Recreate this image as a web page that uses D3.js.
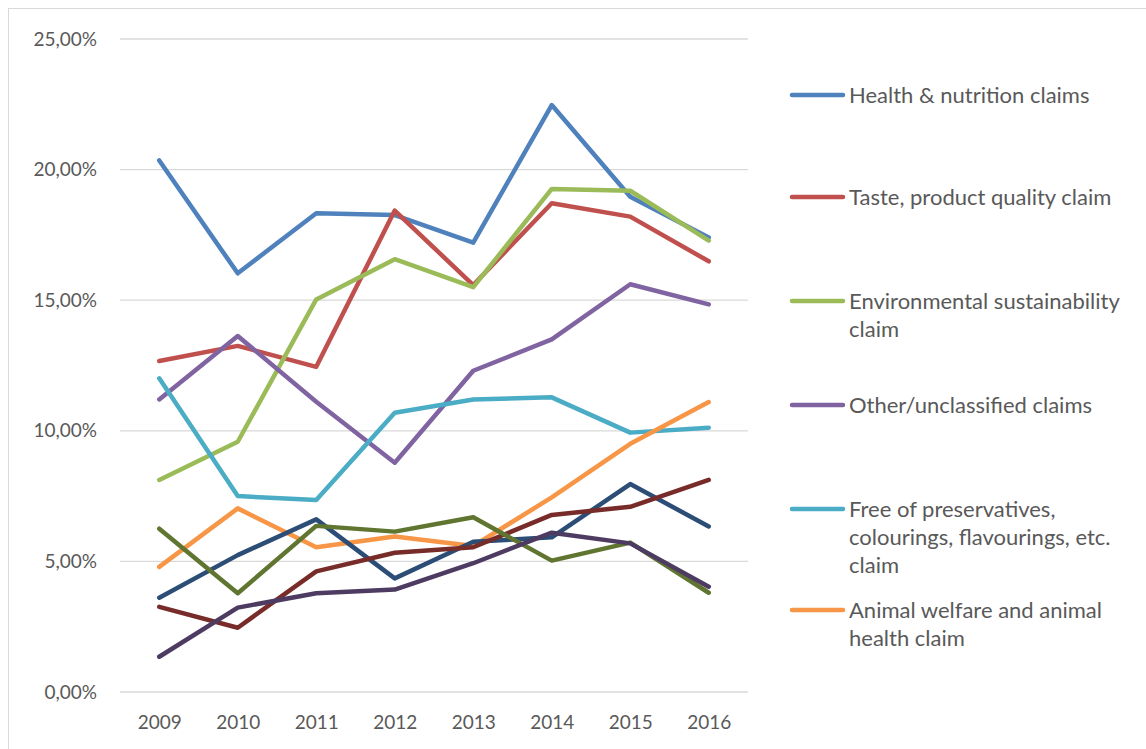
<!DOCTYPE html>
<html>
<head>
  <meta charset="utf-8">
  <title>Claims 2009-2016</title>
  <script src="https://d3js.org/d3.v7.min.js"></script>
  <style>
    body { margin: 0; background: #fff; }
    text { font-family: Lato, "Open Sans", sans-serif; fill: #595959; }
  </style>
</head>
<body>
  <div id="chart"></div>

  <script>
    // anni sull'asse x
    var years = ["2009", "2010", "2011", "2012", "2013", "2014", "2015", "2016"];

    // nomi delle serie (solo le prime 6 compaiono in legenda)
    var seriesNames = [
      "Health & nutrition claims",
      "Taste, product quality claim",
      "Environmental sustainability claim",
      "Other/unclassified claims",
      "Free of preservatives, colourings, flavourings, etc. claim",
      "Animal welfare and animal health claim",
      "Series 7", "Series 8", "Series 9", "Series 10"
    ];

    // valori (quote)
    var health      = [0.2035, 0.1603, 0.1833, 0.1826, 0.1720, 0.2247, 0.1896, 0.1740];
    var taste       = [0.1267, 0.1325, 0.1245, 0.1843, 0.1558, 0.1871, 0.1820, 0.1649];
    var environment = [0.0812, 0.0958, 0.1503, 0.1657, 0.1550, 0.1926, 0.1919, 0.1728];
    var other       = [0.1120, 0.1363, 0.1111, 0.0878, 0.1230, 0.1350, 0.1561, 0.1484];
    var freeOf      = [0.1201, 0.0750, 0.0735, 0.1069, 0.1120, 0.1128, 0.0993, 0.1012];
    var animal      = [0.0479, 0.0703, 0.0554, 0.0595, 0.0559, 0.0745, 0.0950, 0.1110];
    var series7     = [0.0361, 0.0524, 0.0661, 0.0435, 0.0575, 0.0592, 0.0796, 0.0634];
    var series8     = [0.0326, 0.0246, 0.0462, 0.0533, 0.0554, 0.0678, 0.0709, 0.0812];
    var series9     = [0.0625, 0.0378, 0.0636, 0.0614, 0.0669, 0.0503, 0.0572, 0.0380];
    var series10    = [0.0135, 0.0323, 0.0378, 0.0392, 0.0493, 0.0610, 0.0569, 0.0403];

    var allValues = [health, taste, environment, other, freeOf, animal, series7, series8, series9, series10];
    var colors = ["#4F81BD", "#C0504D", "#9BBB59", "#8064A2", "#4BACC6", "#F79646",
                  "#2C4D75", "#772C2A", "#5F7530", "#4D3B62"];

    // righe di testo della legenda
    var legendLines = [
      ["Health & nutrition claims"],
      ["Taste, product quality claim"],
      ["Environmental sustainability", "claim"],
      ["Other/unclassified claims"],
      ["Free of preservatives,", "colourings, flavourings, etc.", "claim"],
      ["Animal welfare and animal", "health claim"]
    ];
    var yTicks = [0, 0.05, 0.10, 0.15, 0.20, 0.25];

    var W = 1146, H = 749;
    var svg = d3.select("#chart").append("svg")
                .attr("width", W).attr("height", H);

    // cornice del grafico
    svg.append("rect")
       .attr("x", 8.5).attr("y", 8.5)
       .attr("width", W + 20).attr("height", H + 20)
       .attr("fill", "none").attr("stroke", "#D9D9D9");

    var xScale = d3.scalePoint().domain(years).range([120, 748]).padding(0.5);
    var yScale = d3.scaleLinear().domain([0, 0.25]).range([692, 39]);

    var locale = d3.formatLocale({ decimal: ",", thousands: ".", grouping: [3], currency: ["", "€"] });
    var fmt = locale.format(".2%");

    // griglia
    svg.append("g")
       .selectAll("line")
       .data(yTicks)
       .enter().append("line")
       .attr("x1", 120).attr("x2", 748)
       .attr("y1", d => yScale(d)).attr("y2", d => yScale(d))
       .attr("stroke", "#D9D9D9").attr("stroke-width", 1.3);

    // asse y
    var yAxis = svg.append("g")
       .attr("transform", "translate(97,0)")
       .call(d3.axisLeft(yScale).tickValues(yTicks).tickFormat(fmt).tickSize(0).tickPadding(0));
    yAxis.select(".domain").remove();
    yAxis.selectAll("text").attr("font-size", 19).style("font-family", "Lato, sans-serif").attr("fill", "#595959");

    // asse x
    var xAxis = svg.append("g")
       .attr("transform", "translate(0,715)")
       .call(d3.axisBottom(xScale).tickSize(0).tickPadding(0));
    xAxis.select(".domain").remove();
    xAxis.selectAll("text").attr("font-size", 19).style("font-family", "Lato, sans-serif").attr("fill", "#595959");

    // linee
    var line = d3.line()
                 .x((d, i) => xScale(years[i]))
                 .y(d => yScale(d));

    svg.append("g")
       .selectAll("path")
       .data(allValues)
       .enter().append("path")
       .attr("d", d => line(d))
       .attr("fill", "none")
       .attr("stroke", (d, i) => colors[i])
       .attr("stroke-width", 4.5)
       .attr("stroke-linejoin", "round")
       .attr("stroke-linecap", "round");

    // legenda
    var legendY = [95, 197, 301, 405, 509, 610];
    var legend = svg.append("g")
       .selectAll("g")
       .data(legendLines)
       .enter().append("g")
       .attr("transform", (d, i) => "translate(0," + legendY[i] + ")");

    legend.append("line")
       .attr("x1", 792).attr("x2", 843)
       .attr("stroke", (d, i) => colors[i])
       .attr("stroke-width", 4.5)
       .attr("stroke-linecap", "round");

    legend.selectAll("text")
       .data(d => d)
       .enter().append("text")
       .attr("x", 849)
       .attr("y", (d, i) => i * 28)
       .attr("dy", "0.35em")
       .attr("font-size", 22)
       .text(d => d);
  </script>
</body>
</html>
